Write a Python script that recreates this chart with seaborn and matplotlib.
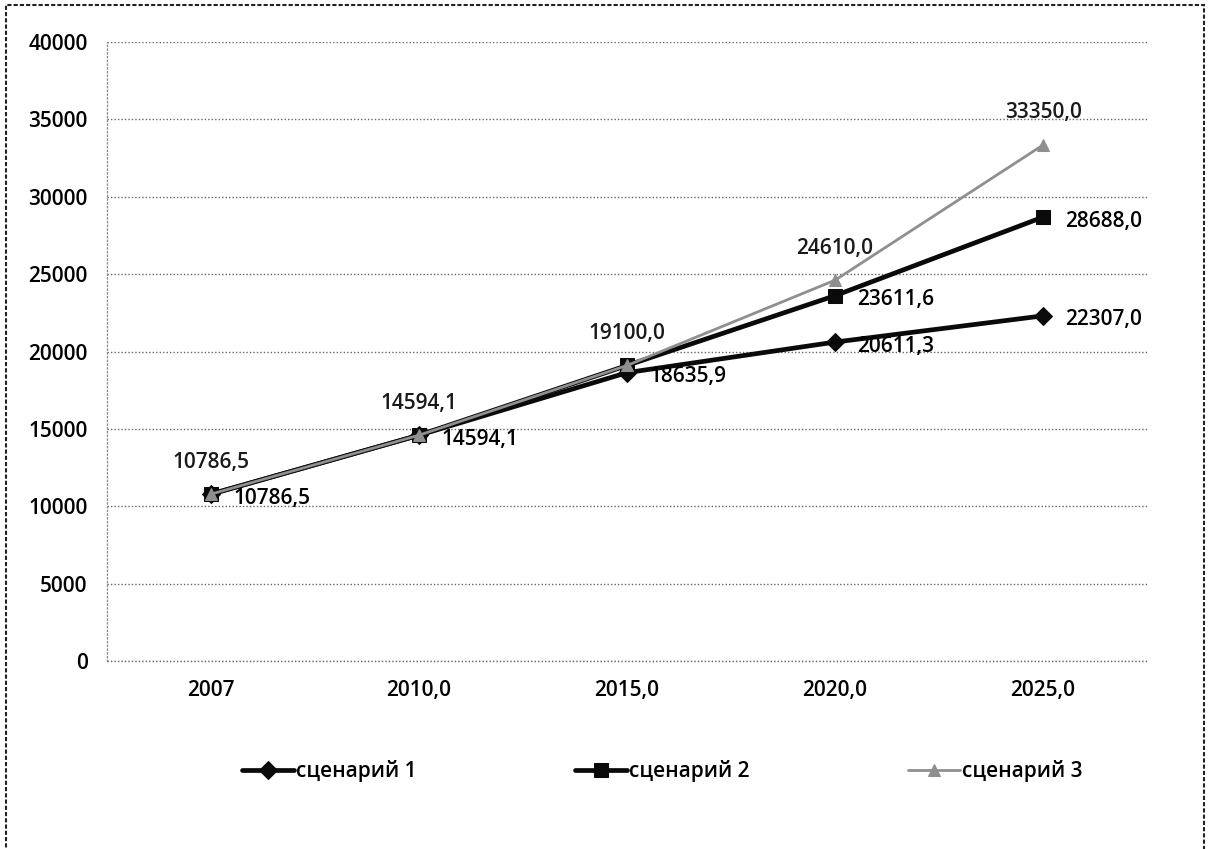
import numpy as np
import pandas as pd
import matplotlib
matplotlib.use("Agg")
import matplotlib.pyplot as plt
import seaborn as sns
from matplotlib.patches import Rectangle

# ============================================================
# DATA
# ============================================================
years = ["2007", "2010,0", "2015,0", "2020,0", "2025,0"]
scen1 = [10786.5, 14594.1, 18635.9, 20611.3, 22307.0]
scen2 = [10786.5, 14594.1, 19100.0, 23611.6, 28688.0]
scen3 = [10786.5, 14594.1, 19100.0, 24610.0, 33350.0]
names = ["сценарий 1", "сценарий 2", "сценарий 3"]
yticks = [0, 5000, 10000, 15000, 20000, 25000, 30000, 35000, 40000]

# which points carry a data label
labels1 = [True, True, True, True, True]
labels2 = [False, False, False, True, True]
labels3 = [True, True, True, True, True]

# ============================================================
# STYLE
# ============================================================
sns.set_theme(style="white")
plt.rcParams['font.family'] = ['Open Sans', 'DejaVu Sans']

fmt = lambda v: f"{v:.1f}".replace(".", ",")

x = np.arange(len(years))
df = pd.DataFrame({"x": np.tile(x, 3),
                   "value": scen1 + scen2 + scen3,
                   "series": np.repeat(names, len(years))})

fig = plt.figure(figsize=(12.08, 8.49), dpi=100)
ax = fig.add_axes([0.0886, 0.2214, 0.861, 0.7291])

styles = {
    names[0]: dict(color="#0a0a0a", lw=3.4, marker="D", ms=12, zorder=3),
    names[1]: dict(color="#0a0a0a", lw=3.4, marker="s", ms=14, zorder=2),
    names[2]: dict(color="#8f8f8f", lw=2.0, marker="^", ms=11, zorder=4),
}

for name in names:
    st = styles[name]
    sub = df[df["series"] == name]
    sns.lineplot(data=sub, x="x", y="value", ax=ax, color=st["color"],
                 linewidth=st["lw"], marker=st["marker"], markersize=st["ms"],
                 markeredgecolor=st["color"], zorder=st["zorder"], label=name)

# ============================================================
# DATA LABELS
# ============================================================
for i, v in enumerate(scen1):
    if labels1[i]:
        ax.annotate(fmt(v), (x[i], v), xytext=(16, -3), textcoords="offset points",
                    ha="left", va="center", fontsize=15, fontweight="semibold",
                    color="black")
for i, v in enumerate(scen2):
    if labels2[i]:
        ax.annotate(fmt(v), (x[i], v), xytext=(16, -3), textcoords="offset points",
                    ha="left", va="center", fontsize=15, fontweight="semibold",
                    color="black")
for i, v in enumerate(scen3):
    if labels3[i]:
        ax.annotate(fmt(v), (x[i], v), xytext=(0, 23), textcoords="offset points",
                    ha="center", va="center", fontsize=15, fontweight="semibold",
                    color="#1a1a1a")

# ============================================================
# AXES
# ============================================================
ax.set_xlim(-0.5, len(years) - 0.5)
ax.set_ylim(0, 40000)
ax.set_yticks(yticks)
ax.set_yticklabels([str(t) for t in yticks], fontsize=15, fontweight="semibold")
ax.set_xticks(x)
ax.set_xticklabels(years, fontsize=15, fontweight="semibold")
ax.set_xlabel("")
ax.set_ylabel("")
ax.tick_params(axis="both", length=0, pad=14, colors="black")
ax.grid(axis="y", linestyle=(0, (1, 1.5)), color="#666666", linewidth=1.0)
ax.axhline(0, linestyle=(0, (1, 1.5)), color="#666666", linewidth=1.0,
           clip_on=False, zorder=0)
ax.set_axisbelow(True)
for s in ["top", "right", "bottom"]:
    ax.spines[s].set_visible(False)
ax.spines["left"].set_linestyle((0, (1, 2)))
ax.spines["left"].set_color("#888888")
ax.spines["left"].set_linewidth(0.9)

# ============================================================
# LEGEND
# ============================================================
ax.get_legend().remove()
handles, lbls = ax.get_legend_handles_labels()
for h in handles:
    h.set_markersize(h.get_markersize() * 0.75)
leg = fig.legend(handles, lbls, loc="center", bbox_to_anchor=(0.548, 0.092),
                 ncol=3, frameon=False, fontsize=15, columnspacing=7.6,
                 handlelength=2.5, handletextpad=0.1)
for t in leg.get_texts():
    t.set_fontweight("semibold")
    t.set_color("black")

# outer chart border
fig.patches.append(Rectangle((0.005, -0.01), 0.992, 1.004, transform=fig.transFigure,
                             fill=False, edgecolor="#222222", linewidth=1.5,
                             linestyle=(0, (2, 1))))

fig.savefig("out.png", dpi=100, facecolor="white")
